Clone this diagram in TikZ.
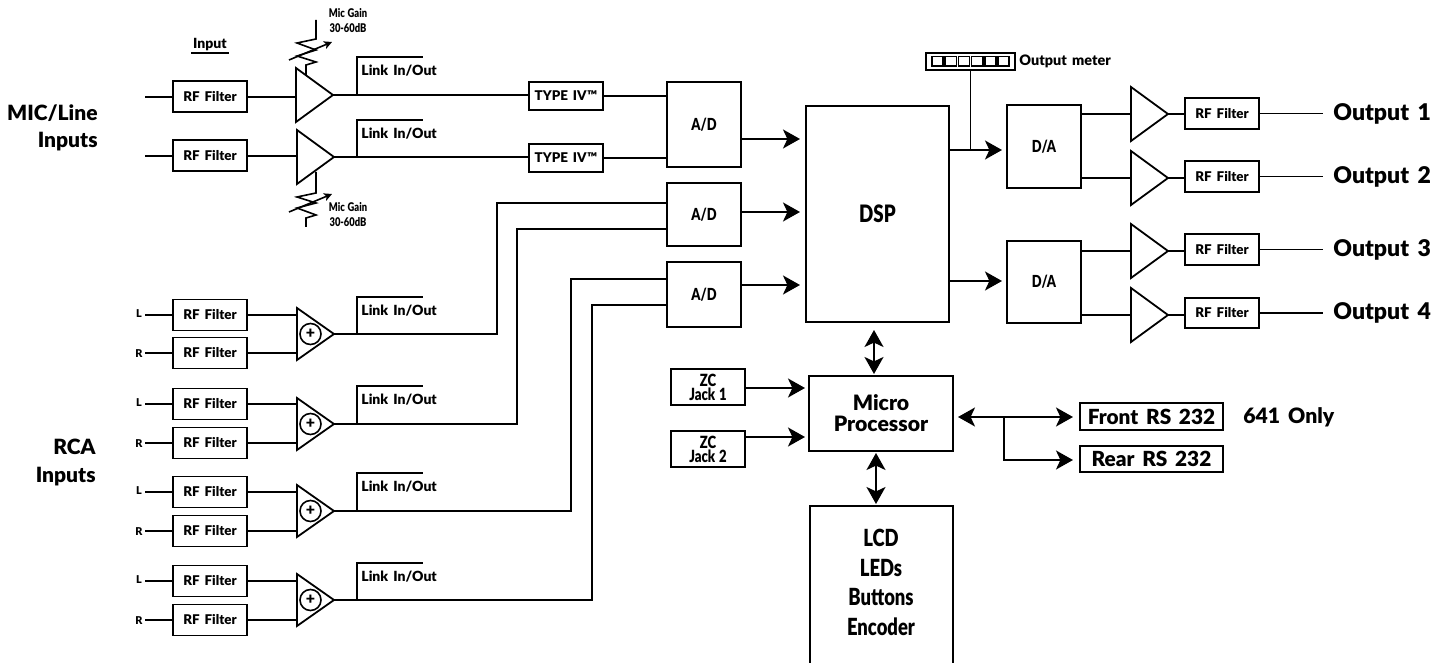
\documentclass[tikz,border=0pt]{standalone}
\usepackage{fontspec}
\setmainfont{Lato}[BoldFont=Lato Black,WordSpace=1.6]
\newfontfamily\narrowf{Lato Black}[FakeStretch=0.78,WordSpace=1.3]
\usetikzlibrary{arrows.meta}
\newcommand\fsz[1]{\fontsize{#1}{#1}\selectfont\bfseries}
\newcommand\nsz[1]{\fontsize{#1}{#1}\selectfont\narrowf}
\tikzset{
 wire/.style={line width=0.9pt,line join=miter},
 boxs/.style={draw,line width=0.9pt,inner sep=0pt,outer sep=0pt,fill=white,align=center},
 amp/.style={draw,line width=0.9pt,fill=white,line join=miter},
 arr/.style={line width=0.95pt,-{Stealth[length=8.5pt,width=9.5pt,inset=2.2pt]}},
 darr/.style={line width=0.95pt,{Stealth[length=8.5pt,width=9.5pt,inset=2.2pt]}-{Stealth[length=8.5pt,width=9.5pt,inset=2.2pt]}},
 smalltxt/.style={font=\fsz{6.7}},
 linklab/.style={inner sep=0pt,anchor=west,font=\fsz{7}},
 biglab/.style={inner sep=0pt,font=\fsz{10.5},anchor=east},
 outlab/.style={inner sep=0pt,font=\fsz{11.5},anchor=west},
 chan/.style={inner sep=0pt,font=\fsz{5.4}},
 adlab/.style={font=\nsz{8.3}},
 gain/.style={inner sep=0pt,font=\nsz{6},align=center},
}
% #1 name #2 x1 #3 y1 #4 x2 #5 y2 #6 style+ #7 text
\newcommand\bx[7]{\node[boxs,#6,minimum width={((#4)-(#2))*0.5pt},minimum height={((#5)-(#3))*0.5pt}] (#1) at ({((#2)+(#4))/2},{((#3)+(#5))/2}) {#7};}
% triangle: #1 name #2 xleft #3 tip y #4 half height
\newcommand\tri[4]{\draw[amp] (#2,#3-#4) -- (#2+37,#3) -- (#2,#3+#4) -- cycle;
 \coordinate (#1in) at (#2,#3); \coordinate (#1out) at (#2+37,#3);}
\newcommand\rf[3]{\bx{#1}{173}{#3-15.5}{247}{#3+15.5}{smalltxt}{#2}}
\newcommand\linkstub[3]{\coordinate (#1a) at (357,#3); \coordinate (#1b) at (423,#3);
 \draw[wire] (#2out -| #1a) -- (#1a) -- (#1b);
 \node[linklab] (#1t) at (361,#3+14) {Link In/Out};}
% RCA group: #1 id #2 y of L #3 y of R #4 tip #5 link top
\newcommand\rcagroup[5]{
 \rf{rf#1l}{RF Filter}{#2}
 \rf{rf#1r}{RF Filter}{#3}
 \node[chan] (lab#1l) at (139,#2-1) {L};
 \node[chan] (lab#1r) at (139,#3+1) {R};
 \coordinate (w#1l) at (145,#2); \coordinate (w#1r) at (145,#3);
 \draw[wire] (w#1l) -- (rf#1l.west);
 \draw[wire] (w#1r) -- (rf#1r.west);
 \tri{s#1}{297}{#4}{26}
 \draw[wire] (rf#1l.east) -- (s#1in |- rf#1l.east);
 \draw[wire] (rf#1r.east) -- (s#1in |- rf#1r.east);
 \node[draw,circle,line width=0.8pt,minimum size=10.5pt,inner sep=0pt,font=\fsz{8}] (plus#1) at (310.5,#4) {+};
 \linkstub{lk#1}{s#1}{#5}
}
\begin{document}
\begin{tikzpicture}[x=0.5pt,y=-0.5pt]
\useasboundingbox (0,0) rectangle (1448,663);
% side labels
\node[biglab] (mic) at (98,113) {MIC/Line};
\node[biglab] (mici) at (98,142) {Inputs};
\node[biglab] (rca) at (96,447) {RCA};
\node[biglab] (rcai) at (96,477) {Inputs};
\node[inner sep=0pt,font=\fsz{7}] (inp) at (210,45) {Input};
\coordinate (ula) at (191,53); \coordinate (ulb) at (229,53);
\draw[line width=0.7pt] (ula) -- (ulb);
% mic channels
\rf{rfa}{RF Filter}{96.5}
\rf{rfb}{RF Filter}{155.5}
\coordinate (wa) at (145,97); \coordinate (wb) at (145,156);
\draw[wire] (wa) -- (rfa.west |- wa);
\draw[wire] (wb) -- (rfb.west |- wb);
\tri{ma}{296}{95}{27}
\tri{mb}{297}{157}{27}
\coordinate (wa2) at (296,97); \coordinate (wb2) at (297,156);
\draw[wire] (rfa.east |- wa2) -- (wa2);
\draw[wire] (rfb.east |- wb2) -- (wb2);
\linkstub{lka}{ma}{57}
\linkstub{lkb}{mb}{120}
\bx{tfa}{529}{82}{603}{110}{smalltxt}{TYPE IV™}
\bx{tfb}{529}{144}{603}{172}{smalltxt}{TYPE IV™}
\draw[wire] (maout) -- (tfa.west |- maout);
\draw[wire] (mbout) -- (tfb.west |- mbout);
% gain pots
\coordinate (ga) at (316,20); \coordinate (gaz) at (306,75);
\draw[line width=0.8pt,line join=miter] (ga) -- (316,39) -- (297,43) -- (316,50) -- (297,56) -- (316,62) -- (306,65) -- (gaz);
\coordinate (gaa) at (289,60); \coordinate (gab) at (332,42);
\draw[line width=0.8pt,-{Stealth[length=4pt,width=4pt,inset=1pt]}] (gaa) -- (gab);
\node[gain] (ga1) at (348,13) {Mic Gain};
\node[gain] (ga2) at (348,28) {30-60dB};
\coordinate (gb) at (316,172); \coordinate (gbz) at (306,227);
\draw[line width=0.8pt,line join=miter] (gb) -- (316,193) -- (297,197) -- (316,203) -- (297,208) -- (316,215) -- (306,218) -- (gbz);
\coordinate (gba) at (289,212); \coordinate (gbb) at (332,194);
\draw[line width=0.8pt,-{Stealth[length=4pt,width=4pt,inset=1pt]}] (gba) -- (gbb);
\node[gain] (gb1) at (348,207) {Mic Gain};
\node[gain] (gb2) at (348,222) {30-60dB};
% RCA groups
\rcagroup{c}{315}{353}{334}{297}
\rcagroup{d}{404}{443}{424}{386}
\rcagroup{e}{492}{531}{511}{473}
\rcagroup{f}{581}{620}{600}{563}
% A/D
\bx{ada}{667}{82}{741}{167}{adlab}{A/D}
\bx{adb}{667}{183}{741}{246}{adlab}{A/D}
\bx{adc}{667}{262}{741}{327}{adlab}{A/D}
\draw[wire] (tfa.east) -- (ada.west |- tfa.east);
\draw[wire] (tfb.east) -- (ada.west |- tfb.east);
\coordinate (jc) at (497,203); \coordinate (jd) at (517,229);
\coordinate (je) at (571,279); \coordinate (jf) at (592,305);
\draw[wire] (scout) -- (jc |- scout) -- (jc) -- (adb.west |- jc);
\draw[wire] (sdout) -- (jd |- sdout) -- (jd) -- (adb.west |- jd);
\draw[wire] (seout) -- (je |- seout) -- (je) -- (adc.west |- je);
\draw[wire] (sfout) -- (jf |- sfout) -- (jf) -- (adc.west |- jf);
% DSP
\bx{dsp}{806}{106}{949}{322}{font=\nsz{12}}{DSP}
\coordinate (pa) at (800,139); \coordinate (pb) at (800,212); \coordinate (pc) at (800,285);
\draw[arr] (ada.east |- pa) -- (pa);
\draw[arr] (adb.east |- pb) -- (pb);
\draw[arr] (adc.east |- pc) -- (pc);
% meter
\bx{meter}{926}{53}{1015}{70}{}{}
\foreach \i in {0,1,2,3,4,5} {
  \bx{cell\i}{931+\i*13.2+1}{56.5}{931+\i*13.2+13.2-1}{66}{line width=0.8pt}{}
}
\node[linklab,font=\fsz{7.2}] (metlab) at (1019,61) {Output meter};
% D/A
\bx{daa}{1007}{105}{1081}{188}{adlab}{D/A}
\bx{dab}{1007}{241}{1081}{323}{adlab}{D/A}
\coordinate (qa) at (1002,150); \coordinate (qb) at (1002,281);
\draw[arr] (dsp.east |- qa) -- (qa);
\draw[arr] (dsp.east |- qb) -- (qb);
\coordinate (mj) at (meter.south |- qa);
\draw[line width=0.8pt] (meter.south) -- (mj);
% outputs
\tri{oa}{1131}{114}{27}
\tri{ob}{1131}{178}{27}
\tri{oc}{1131}{251}{27}
\tri{od}{1131}{315}{27}
\draw[wire] (daa.east |- oain) -- (oain);
\draw[wire] (daa.east |- obin) -- (obin);
\draw[wire] (dab.east |- ocin) -- (ocin);
\draw[wire] (dab.east |- odin) -- (odin);
\bx{rfo1}{1185}{98}{1259}{129}{smalltxt}{RF Filter}
\bx{rfo2}{1185}{161}{1259}{192}{smalltxt}{RF Filter}
\bx{rfo3}{1185}{234}{1259}{265}{smalltxt}{RF Filter}
\bx{rfo4}{1185}{298}{1259}{328}{smalltxt}{RF Filter}
\draw[wire] (oaout) -- (rfo1.west |- oaout);
\draw[wire] (obout) -- (rfo2.west |- obout);
\draw[wire] (ocout) -- (rfo3.west |- ocout);
\draw[wire] (odout) -- (rfo4.west |- odout);
\foreach \k/\yy in {1/114,2/177,3/250,4/313} {
  \node[outlab] (out\k) at (1333,\yy) {Output \k};
  \coordinate (end\k) at (1323,\yy);
  \draw[wire] (rfo\k.east) -- (rfo\k.east -| end\k);
}
% micro
\bx{micro}{809}{376}{953}{451}{font=\fsz{10.6}}{Micro\\Processor}
\bx{zca}{671}{369}{745}{405}{font=\nsz{8.4}}{ZC\\[-1.4pt]Jack 1}
\bx{zcb}{671}{431}{745}{467}{font=\nsz{8.4}}{ZC\\[-1.4pt]Jack 2}
\coordinate (za) at (805,388); \coordinate (zb) at (805,437);
\draw[arr] (zca.east |- za) -- (za);
\draw[arr] (zcb.east |- zb) -- (zb);
\coordinate (b1a) at (874,330); \coordinate (b1b) at (874,374);
\draw[darr] (b1a) -- (b1b);
\coordinate (b2a) at (876,453); \coordinate (b2b) at (876,504);
\draw[darr] (b2a) -- (b2b);
% LCD
\bx{lcd}{810}{506}{953}{690}{}{}
\node[inner sep=0pt,align=center,font=\nsz{11.8}] (lcdt) at (881,582.5) {LCD\\[3pt]LEDs\\[3pt]Buttons\\[3pt]Encoder};
% RS232
\bx{front}{1080}{403}{1223}{430}{font=\fsz{10.4}}{Front RS 232}
\bx{rear}{1080}{446}{1223}{472}{font=\fsz{10.4}}{Rear RS 232}
\node[inner sep=0pt,anchor=west,font=\fsz{10.6}] (only) at (1243,417) {641 Only};
\coordinate (ra) at (958,417); \coordinate (rb) at (1073,417);
\coordinate (rj) at (1004,417); \coordinate (rc) at (1073,460);
\draw[darr] (ra) -- (rb);
\draw[line width=0.8pt,-{Stealth[length=8.5pt,width=9.5pt,inset=2.2pt]}] (rj) |- (rc);
\end{tikzpicture}
\end{document}
